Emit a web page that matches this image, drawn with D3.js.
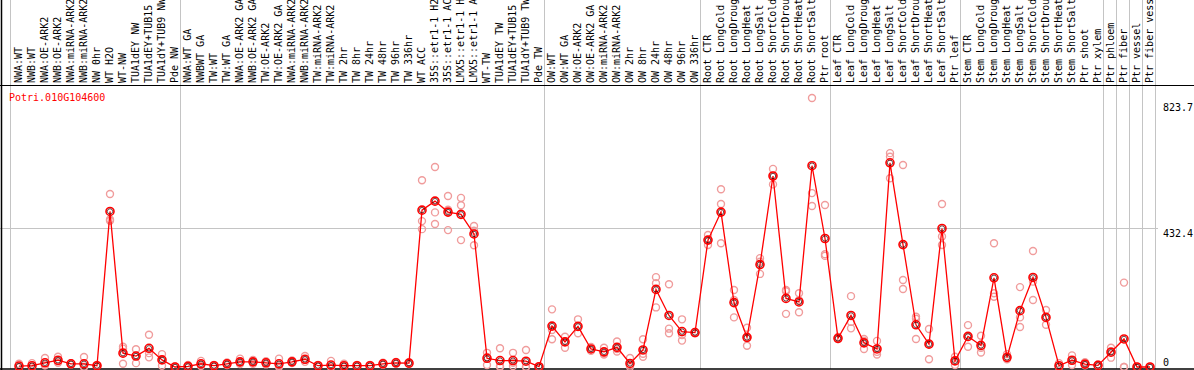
<!DOCTYPE html>
<html>
<head>
<meta charset="utf-8">
<script src="https://cdn.jsdelivr.net/npm/d3@7"></script>
<style>
  body { margin: 0; background: #fff; }
  text { font-family: "DejaVu Sans Mono", monospace; font-size: 10px; }
</style>
</head>
<body>
<div id="chart"></div>
<script>
var gene = "Potri.010G104600";

var categories = [
  "NWA:WT", "NWB:WT", "NWA:OE-ARK2", "NWB:OE-ARK2", "NWA:miRNA-ARK2", "NWB:miRNA-ARK2", "NW 0hr",
  "WT H2O", "WT-NW", "TUA1dEY NW", "TUA1dEY+TUB15", "TUA1dY+TUB9 NW", "Pde NW",
  "NWA:WT GA", "NWBWT GA", "TW:WT", "TW:WT GA", "NWA:OE-ARK2 GA", "NWB:OE-ARK2 GA", "TW:OE-ARK2",
  "TW:OE-ARK2 GA", "NWA:miRNA-ARK2", "NWB:miRNA-ARK2", "TW:miRNA-ARK2", "TW:miRNA-ARK2",
  "TW 2hr", "TW 8hr", "TW 24hr", "TW 48hr", "TW 96hr", "TW 336hr", "WT ACC",
  "35S::etr1-1 H2O", "35S::etr1-1 ACC", "LMX5::etr1-1 H2O", "LMX5::etr1-1 ACC",
  "WT-TW", "TUA1dEY TW", "TUA1dEY+TUB15", "TUA1dY+TUB9 TW", "Pde TW",
  "OW:WT", "OW:WT GA", "OW:OE-ARK2", "OW:OE-ARK2 GA", "OW:miRNA-ARK2", "OW:miRNA-ARK2",
  "OW 2hr", "OW 8hr", "OW 24hr", "OW 48hr", "OW 96hr", "OW 336hr",
  "Root CTR", "Root LongCold", "Root LongDrought", "Root LongHeat", "Root LongSalt",
  "Root ShortCold", "Root ShortDrought", "Root ShortHeat", "Root ShortSalt", "Ptr root",
  "Leaf CTR", "Leaf LongCold", "Leaf LongDrought", "Leaf LongHeat", "Leaf LongSalt",
  "Leaf ShortCold", "Leaf ShortDrought", "Leaf ShortHeat", "Leaf ShortSalt", "Ptr leaf",
  "Stem CTR", "Stem LongCold", "Stem LongDrought", "Stem LongHeat", "Stem LongSalt",
  "Stem ShortCold", "Stem ShortDrought", "Stem ShortHeat", "Stem ShortSalt",
  "Ptr shoot", "Ptr xylem", "Ptr phloem", "Ptr fiber", "Ptr vessel", "Ptr fiber vessel"
];

// mean expression per sample
var means = [
  3, 4, 13, 21, 10, 10, 4, 483, 43, 34, 58, 22, 0,
  2, 10, 4, 10, 16, 16, 13, 10, 16, 24, 4, 6, 4, 4, 4, 10, 13, 12, 487,
  515, 481, 474, 413, 27, 20, 20, 18, 1,
  127, 78, 126, 56, 47, 61, 11, 53, 241, 160, 110, 107,
  394, 481, 200, 92, 318, 593, 213, 202, 625, 399,
  89, 160, 75, 56, 634, 380, 131, 71, 430, 19,
  95, 67, 277, 30, 175, 278, 154, 4, 21, 9, 5, 46, 87, 0, 0
];

// replicates
var rep1 = [
  10, 12, 28, 32, 12, 31, 6, 537, 63, 55, 100, 40, 2,
  6, 19, 6, 14, 26, 22, 18, 26, 20, 34, 6, 19, 10, 6, 6, 13, 16, 15, 580,
  621, 531, 525, 438, 44, 58, 44, 53, 2,
  179, 94, 148, 62, 60, 79, 28, 86, 279, 257, 148, 109,
  410, 552, 239, 122, 338, 615, 239, 229, 835, 503,
  93, 220, 87, 81, 664, 627, 156, 118, 506, 32,
  130, 97, 384, 40, 248, 360, 177, 12, 36, 15, 8, 60, 262, 0, 0
];
var rep2 = [
  0, 0, 5, 13, 10, 0, 3, 458, 10, 12, 43, 22, 0,
  0, 8, 4, 10, 13, 16, 13, 4, 16, 22, 4, 0, 2, 4, 4, 10, 13, 12, 453,
  480, 488, 502, 378, 6, 3, 3, 0, 0,
  86, 60, 105, 50, 39, 48, 0, 32, 185, 119, 99, 105,
  379, 506, 154, 66, 289, 567, 165, 170, 540, 350,
  87, 120, 56, 39, 653, 270, 87, 24, 405, 6,
  63, 45, 229, 24, 154, 265, 131, 0, 6, 8, 4, 29, 0, 0, 0
];
var rep3 = [
  0, 0, 6, 18, 8, 0, 3, 454, 57, 35, 30, 4, 0,
  0, 3, 2, 6, 9, 10, 8, 0, 12, 16, 2, 0, 0, 2, 2, 7, 10, 9, 428,
  444, 425, 394, 423, 31, 0, 13, 0, 0,
  115, 79, 126, 56, 42, 56, 5, 41, 260, 105, 82, 107,
  394, 384, 208, 89, 327, 593, 235, 207, 500, 345,
  88, 140, 81, 47, 586, 242, 150, 71, 379, 19,
  93, 60, 218, 27, 124, 208, 154, 0, 21, 5, 3, 49, 0, 0, 0
];

var yTicks = [0, 432.4, 823.7];
// index of the last sample before each separator line
var groupEnds = [12, 40, 52, 62, 72, 83, 84, 85, 86, 87];

var width = 1194, height = 370;

var svg = d3.select("#chart")
  .append("svg")
    .attr("width", width)
    .attr("height", height);

var x = d3.scalePoint()
  .domain(d3.range(categories.length))
  .range([19, 19 + 13 * (categories.length - 1)]);

var y = d3.scaleLinear()
  .domain([0, 823.7])
  .range([367, 101.7]);

// separators
var sepX = [x(0) - 8.5].concat(groupEnds.map(function(i) { return Math.floor(x(i) + 5) + 0.5; }));
svg.selectAll(".sep")
  .data(sepX)
  .enter()
  .append("line")
    .attr("x1", function(d) { return d; })
    .attr("x2", function(d) { return d; })
    .attr("y1", 0)
    .attr("y2", 369)
    .style("stroke", "#c4c4c4")
    .style("stroke-width", 1);

// middle grid line
svg.append("line")
  .attr("x1", 0).attr("x2", 1158)
  .attr("y1", Math.round(y(yTicks[1])) + 0.5)
  .attr("y2", Math.round(y(yTicks[1])) + 0.5)
  .style("stroke", "#c4c4c4");

// frame
svg.append("line").attr("x1", 0).attr("x2", width).attr("y1", 85.5).attr("y2", 85.5).style("stroke", "#000");
svg.append("line").attr("x1", 0).attr("x2", width).attr("y1", 369).attr("y2", 369).style("stroke", "#000").style("stroke-width", 1.5);
svg.append("line").attr("x1", 1.5).attr("x2", 1.5).attr("y1", 0).attr("y2", height).style("stroke", "#000").style("stroke-width", 1.5);

// sample labels (cut by the top edge, as in the original)
svg.selectAll(".lab")
  .data(categories)
  .enter()
  .append("text")
    .attr("transform", function(d, i) { return "translate(" + (x(i) + 2.5) + ",83) rotate(-90)"; })
    .attr("fill", "#000")
    .text(function(d) { return d; });

// gene name
svg.append("text")
  .attr("x", 9)
  .attr("y", 100.5)
  .attr("fill", "red")
  .text(gene);

// y tick labels
svg.selectAll(".ytick")
  .data(yTicks)
  .enter()
  .append("text")
    .attr("x", 1163)
    .attr("y", function(d) { return d === 0 ? 365.5 : y(d) + 9; })
    .attr("fill", "#000")
    .text(function(d) { return d; });

// replicates
var reps = [];
[rep1, rep2, rep3].forEach(function(r) {
  r.forEach(function(v, i) { reps.push({i: i, v: v}); });
});
svg.selectAll(".rep")
  .data(reps)
  .enter()
  .append("circle")
    .attr("cx", function(d) { return x(d.i); })
    .attr("cy", function(d) { return y(d.v); })
    .attr("r", 3.5)
    .style("fill", "none")
    .style("stroke", "#f09c9c")
    .style("stroke-width", 1.4);

// mean line
var line = d3.line()
  .x(function(d, i) { return x(i); })
  .y(function(d) { return y(d); });
svg.append("path")
  .datum(means)
  .attr("d", line)
  .style("fill", "none")
  .style("stroke", "red")
  .style("stroke-width", 1.3);

// mean markers
svg.selectAll(".mean")
  .data(means)
  .enter()
  .append("circle")
    .attr("cx", function(d, i) { return x(i); })
    .attr("cy", function(d) { return y(d); })
    .attr("r", 4)
    .style("fill", "none")
    .style("stroke", "red")
    .style("stroke-width", 1.6);
svg.selectAll(".meanin")
  .data(means)
  .enter()
  .append("circle")
    .attr("cx", function(d, i) { return x(i); })
    .attr("cy", function(d) { return y(d); })
    .attr("r", 2.7)
    .style("fill", "none")
    .style("stroke", "#300")
    .style("stroke-width", 0.7);
</script>
</body>
</html>
